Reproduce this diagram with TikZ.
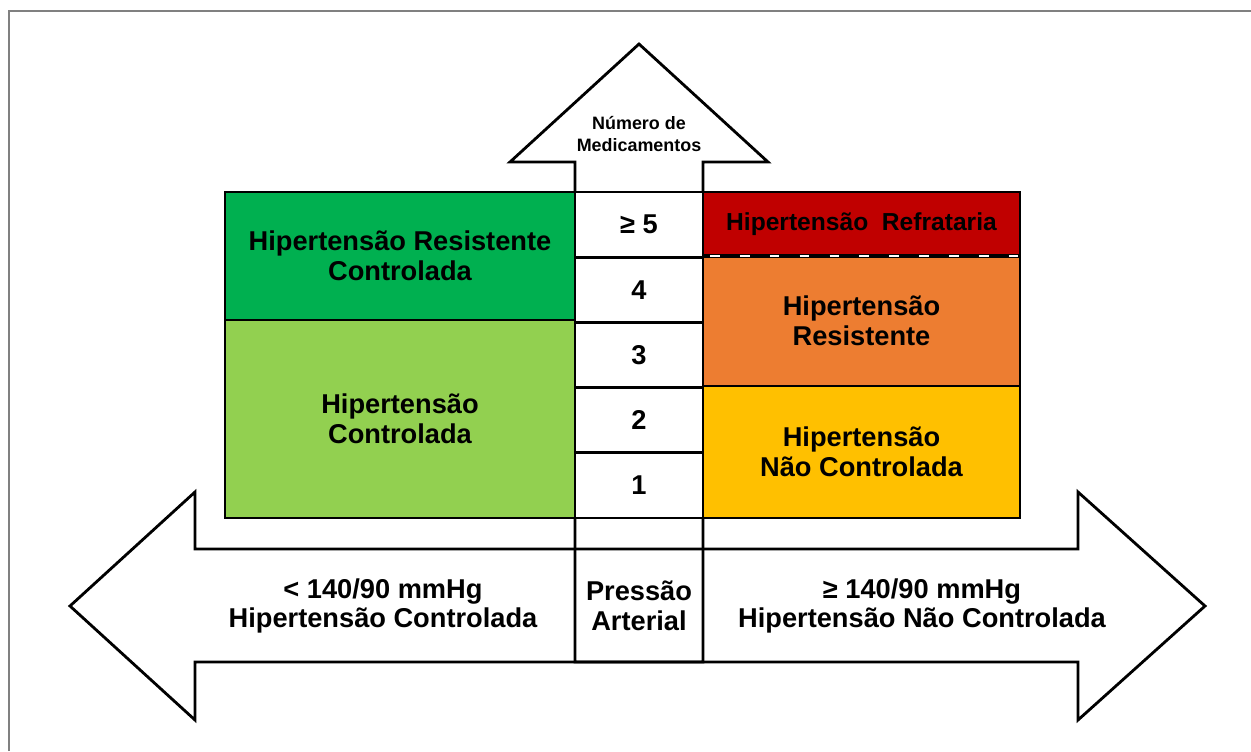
\documentclass[tikz,border=0pt]{standalone}
\usepackage{fontspec}
\setmainfont{Liberation Sans}
\definecolor{verdeesc}{HTML}{00B050}
\definecolor{verdecla}{HTML}{92D050}
\definecolor{vermelho}{HTML}{C00000}
\definecolor{laranja}{HTML}{ED7D31}
\definecolor{amarelo}{HTML}{FFC000}

\begin{document}
\begin{tikzpicture}[x=0.02cm,y=-0.02cm,line width=1.6pt,
    txt/.style={font=\bfseries\fontsize{15.5}{17}\selectfont,align=center},
    smalltxt/.style={font=\bfseries\fontsize{10.2}{12}\selectfont,align=center}]

      \useasboundingbox (0,0) rectangle (1251,751);
      \draw[gray,line width=1.1pt] (9,751) -- (9,11) -- (1251,11);

      % setas
      \draw[fill=white] (639,44) -- (768,162) -- (703,162) -- (703,662)
        -- (575,662) -- (575,162) -- (510,162) -- cycle;
      \draw (70,606) -- (195,492) -- (195,549) -- (1078,549) -- (1078,492)
        -- (1205,606) -- (1078,720) -- (1078,662) -- (195,662) -- (195,720) -- cycle;

      \begin{scope}[every node/.style={draw,inner sep=0pt,outer sep=0pt,txt}]
        \node[fill=verdeesc,minimum width=7cm,minimum height=2.56cm] (hrc) at (400,256)
          {Hipertensão Resistente\\Controlada};
        \node[fill=verdecla,minimum width=7cm,minimum height=3.96cm] (hc) at (400,419)
          {Hipertensão\\Controlada};
        \node[fill=vermelho,minimum width=6.34cm,minimum height=1.28cm,
          font=\bfseries\fontsize{14}{16}\selectfont] (href) at (861.5,224)
          {Hipertensão\ \ Refrataria};
        \node[fill=laranja,minimum width=6.34cm,minimum height=2.6cm] (hr) at (861.5,321)
          {Hipertensão\\Resistente};
        \node[fill=amarelo,minimum width=6.34cm,minimum height=2.64cm] (hnc) at (861.5,452)
          {Hipertensão\\Não Controlada};
        \foreach \lab [count=\i] in {1,2,3,4,≥ 5}
          \node[fill=white,minimum width=2.56cm,minimum height=1.304cm] (n\i)
            at (639,{518-65.2*(\i-0.5)}) {\lab};
      \end{scope}

      \draw[line width=2.8pt,line cap=butt] (href.south west) -- (href.south east);
      \draw[white,line width=1.2pt,dash pattern=on 5.5pt off 11.5pt,dash phase=-4pt]
        (href.south west) -- (href.south east);

      \begin{scope}[every node/.style={txt}]
        \node[smalltxt] (med) at (639,134) {Número de\\Medicamentos};
        \node (pa) at (639,606) {Pressão\\Arterial};
        \node (pcont) at (383,606) {< 140/90 mmHg\\Hipertensão Controlada};
        \node (pnc) at (922,606) {≥ 140/90 mmHg\\Hipertensão Não Controlada};
      \end{scope}

    \end{tikzpicture}
\end{document}
